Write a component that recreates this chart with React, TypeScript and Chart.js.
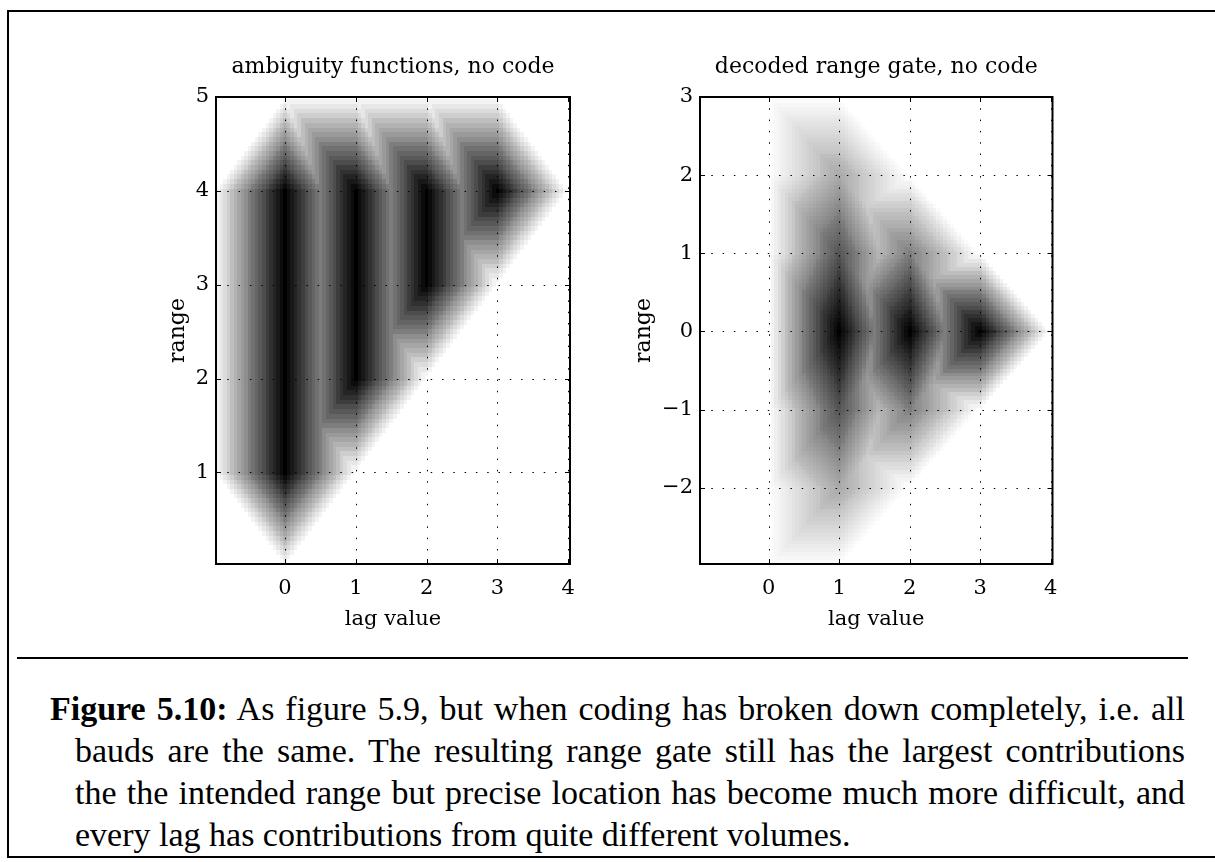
import React, { useEffect, useRef } from "react";
import { Chart, registerables } from "chart.js";

Chart.register(...registerables);

// ---------------- data ----------------
// model parameters of the uncoded pulse (in baud units)
const LAGS_AMBIGUITY = [0, 1, 2, 3];
const LAGS_DECODED = [1, 2, 3];
const PULSE_BAUDS = 4;
const FILTER_BAUDS = 1;
const SAMPLE_TIME = 5;
const CELL = 0.05;

const X_RANGE = [-0.975, 4.025];
const Y_RANGE_AMB = [0.025, 5.0];
const Y_RANGE_DEC = [-2.975, 3.0];

const X_TICKS = [0, 1, 2, 3, 4];
const Y_TICKS_AMB = [1, 2, 3, 4, 5];
const Y_TICKS_DEC = [-2, -1, 0, 1, 2, 3];

const TITLE_AMB = "ambiguity functions, no code";
const TITLE_DEC = "decoded range gate, no code";
const X_LABEL = "lag value";
const Y_LABEL = "range";

const CAPTION_LABEL = "Figure 5.10:";
const CAPTION_LINES = [
  " As figure 5.9, but when coding has broken down completely, i.e. all",
  "bauds are the same. The resulting range gate still has the largest contributions",
  "the the intended range but precise location has become much more difficult, and",
  "every lag has contributions from quite different volumes.",
];

// ---------------- model ----------------
type Cell = { x: number; y: number; v: number };

function ambiguity(lag: number, tau: number, r: number): number {
  const delta = tau - lag;
  const t1 = SAMPLE_TIME;
  const lo = Math.max(t1 - FILTER_BAUDS, t1 - FILTER_BAUDS - delta, r, r - tau);
  const hi = Math.min(t1, t1 - delta, r + PULSE_BAUDS, r - tau + PULSE_BAUDS);
  return Math.max(0, hi - lo) / FILTER_BAUDS;
}

function decoded(lag: number, tau: number, y: number): number {
  const n = PULSE_BAUDS - lag;
  let s = 0;
  for (let j = 0; j < n; j++) s += ambiguity(lag, tau, y + (SAMPLE_TIME - FILTER_BAUDS) - j);
  return s / n;
}

function centers(lo: number, hi: number): number[] {
  const out: number[] = [];
  const a = Math.ceil(lo / CELL - 1e-9);
  const b = Math.floor(hi / CELL + 0.5 + 1e-9);
  for (let i = a; i <= b; i++) out.push(Math.round(i * CELL * 1000) / 1000);
  return out;
}

function buildCells(yr: number[], fn: (x: number, y: number) => number): Cell[] {
  const cells: Cell[] = [];
  const xs = centers(X_RANGE[0], X_RANGE[1]);
  const ys = centers(yr[0], yr[1]);
  for (const x of xs) for (const y of ys) {
    const v = fn(x, y);
    if (v > 1e-9) cells.push({ x, y, v });
  }
  return cells;
}

const CELLS_AMB = buildCells(Y_RANGE_AMB, (x, y) =>
  Math.max(...LAGS_AMBIGUITY.map((k) => ambiguity(k, x, y)))
);
const CELLS_DEC = buildCells(Y_RANGE_DEC, (x, y) =>
  Math.max(...LAGS_DECODED.map((k) => decoded(k, x, y)))
);

// ---------------- drawing ----------------
const FONT = '"DejaVu Serif", serif';

const heatmapPlugin = {
  id: "heatmapGrid",
  beforeDatasetsDraw(chart: any) {
    const { ctx, chartArea, scales } = chart;
    const xs = scales.x;
    const ys = scales.y;
    const data = chart.data.datasets[0].data as Cell[];
    ctx.save();
    ctx.beginPath();
    ctx.rect(chartArea.left, chartArea.top, chartArea.right - chartArea.left, chartArea.bottom - chartArea.top);
    ctx.clip();
    for (const c of data) {
      const idx = Math.min(63, Math.floor(c.v * 64 + 1e-9));
      if (idx <= 0) continue;
      const g = Math.round(255 * (1 - idx / 63));
      const x0 = Math.round(xs.getPixelForValue(c.x - CELL / 2));
      const x1 = Math.round(xs.getPixelForValue(c.x + CELL / 2));
      const y0 = Math.round(ys.getPixelForValue(c.y + CELL / 2));
      const y1 = Math.round(ys.getPixelForValue(c.y - CELL / 2));
      ctx.fillStyle = `rgb(${g},${g},${g})`;
      ctx.fillRect(x0, y0, x1 - x0, y1 - y0);
    }
    ctx.restore();
  },
  afterDatasetsDraw(chart: any) {
    const { ctx, chartArea, scales } = chart;
    const { left, right, top, bottom } = chartArea;
    const xs = scales.x;
    const ys = scales.y;
    ctx.save();
    ctx.strokeStyle = "#000";
    ctx.lineWidth = 1;
    ctx.setLineDash([1.5, 9.8]);
    for (const t of xs.ticks) {
      const p = Math.round(xs.getPixelForValue(t.value)) + 0.5;
      ctx.beginPath();
      ctx.moveTo(p, top);
      ctx.lineTo(p, bottom);
      ctx.stroke();
    }
    for (const t of ys.ticks) {
      const p = Math.round(ys.getPixelForValue(t.value)) + 0.5;
      ctx.beginPath();
      ctx.moveTo(left, p);
      ctx.lineTo(right, p);
      ctx.stroke();
    }
    ctx.setLineDash([]);
    const tl = 5;
    for (const t of xs.ticks) {
      const p = Math.round(xs.getPixelForValue(t.value)) + 0.5;
      ctx.beginPath();
      ctx.moveTo(p, bottom);
      ctx.lineTo(p, bottom - tl);
      ctx.moveTo(p, top);
      ctx.lineTo(p, top + tl);
      ctx.stroke();
    }
    for (const t of ys.ticks) {
      const p = Math.round(ys.getPixelForValue(t.value)) + 0.5;
      ctx.beginPath();
      ctx.moveTo(left, p);
      ctx.lineTo(left + tl, p);
      ctx.moveTo(right, p);
      ctx.lineTo(right - tl, p);
      ctx.stroke();
    }
    ctx.lineWidth = 2;
    ctx.strokeRect(left, top, right - left, bottom - top);
    ctx.restore();
  },
};

const CANVAS_W = 450;
const CANVAS_H = 596;

type PanelProps = {
  left: number;
  title: string;
  cells: Cell[];
  yRange: number[];
  yTicks: number[];
  axisWidth: number;
  padRight: number;
  yTitlePad: number;
};

function fmt(v: number): string {
  return v < 0 ? "\u2212" + Math.abs(v) : String(v);
}

function Panel(p: PanelProps) {
  const ref = useRef<HTMLCanvasElement>(null);
  useEffect(() => {
    const chart = new Chart(ref.current as HTMLCanvasElement, {
      type: "scatter",
      data: {
        datasets: [{ data: p.cells as any, pointRadius: 0, pointHoverRadius: 0 }],
      },
      options: {
        animation: false,
        responsive: false,
        devicePixelRatio: 1,
        events: [],
        layout: { padding: { left: 0, right: p.padRight, top: 0, bottom: 0 } },
        plugins: {
          legend: { display: false },
          tooltip: { enabled: false },
          title: {
            display: true,
            text: p.title,
            color: "#000",
            fullSize: false,
            font: { family: FONT, size: 22, weight: "normal", lineHeight: 1.2 },
            padding: { top: 14, bottom: 16.6 },
          },
        },
        scales: {
          x: {
            type: "linear",
            min: X_RANGE[0],
            max: X_RANGE[1],
            afterBuildTicks: (s: any) => {
              s.ticks = X_TICKS.map((v) => ({ value: v }));
            },
            afterFit: (s: any) => {
              s.height = CANVAS_H - 524;
            },
            grid: { display: false, drawTicks: false },
            border: { display: false },
            ticks: {
              color: "#000",
              font: { family: FONT, size: 21, lineHeight: 1.2 },
              padding: 12,
              maxRotation: 0,
              autoSkip: false,
              callback: (v: any) => fmt(Number(v)),
            },
            title: {
              display: true,
              text: X_LABEL,
              color: "#000",
              font: { family: FONT, size: 21, lineHeight: 1.2 },
              padding: { top: 0, bottom: 3.6 },
            },
          },
          y: {
            type: "linear",
            min: p.yRange[0],
            max: p.yRange[1],
            afterBuildTicks: (s: any) => {
              s.ticks = p.yTicks.map((v) => ({ value: v }));
            },
            afterFit: (s: any) => {
              s.width = p.axisWidth;
            },
            grid: { display: false, drawTicks: false },
            border: { display: false },
            ticks: {
              color: "#000",
              font: { family: FONT, size: 21, lineHeight: 1.2 },
              padding: 7,
              autoSkip: false,
              callback: (v: any) => fmt(Number(v)),
            },
            title: {
              display: true,
              text: Y_LABEL,
              color: "#000",
              font: { family: FONT, size: 22, lineHeight: 1.2 },
              padding: { top: p.yTitlePad, bottom: 0 },
            },
          },
        },
      },
      plugins: [heatmapPlugin],
    } as any);
    return () => chart.destroy();
  }, []);
  return (
    <canvas
      ref={ref}
      width={CANVAS_W}
      height={CANVAS_H}
      style={{ position: "absolute", left: p.left, top: 40, width: CANVAS_W, height: CANVAS_H }}
    />
  );
}

const line = (l: number, t: number, w: number, h: number) => (
  <div style={{ position: "absolute", left: l, top: t, width: w, height: h, background: "#000" }} />
);

export default function App() {
  const capFont = '"Liberation Serif", serif';
  const lineStyle = (i: number): React.CSSProperties => ({
    position: "absolute",
    left: i === 0 ? 50 : 75,
    width: i === 0 ? 1135 : 1110,
    top: 688 + i * 42,
    height: 42,
    lineHeight: "42px",
    fontFamily: capFont,
    fontSize: 34,
    color: "#000",
    whiteSpace: "nowrap",
    textAlign: i === 3 ? "left" : "justify",
    textAlignLast: i === 3 ? "left" : "justify",
  } as any);
  return (
    <div
      style={{
        position: "absolute",
        left: 0,
        top: 0,
        width: 1215,
        height: 862,
        background: "#fff",
        overflow: "hidden",
      }}
    >
      {line(7, 10, 1208, 2)}
      {line(7, 10, 2, 848)}
      {line(7, 856, 1208, 2)}
      <Panel
        left={140}
        title={TITLE_AMB}
        cells={CELLS_AMB}
        yRange={Y_RANGE_AMB}
        yTicks={Y_TICKS_AMB}
        axisWidth={76}
        padRight={20}
        yTitlePad={25}
      />
      <Panel
        left={625}
        title={TITLE_DEC}
        cells={CELLS_DEC}
        yRange={Y_RANGE_DEC}
        yTicks={Y_TICKS_DEC}
        axisWidth={75}
        padRight={22.5}
        yTitlePad={6}
      />
      {line(17, 657, 1171, 2)}
      {CAPTION_LINES.map((t, i) => (
        <div key={i} style={lineStyle(i)}>
          {i === 0 ? <b>{CAPTION_LABEL}</b> : null}
          {t}
        </div>
      ))}
    </div>
  );
}
